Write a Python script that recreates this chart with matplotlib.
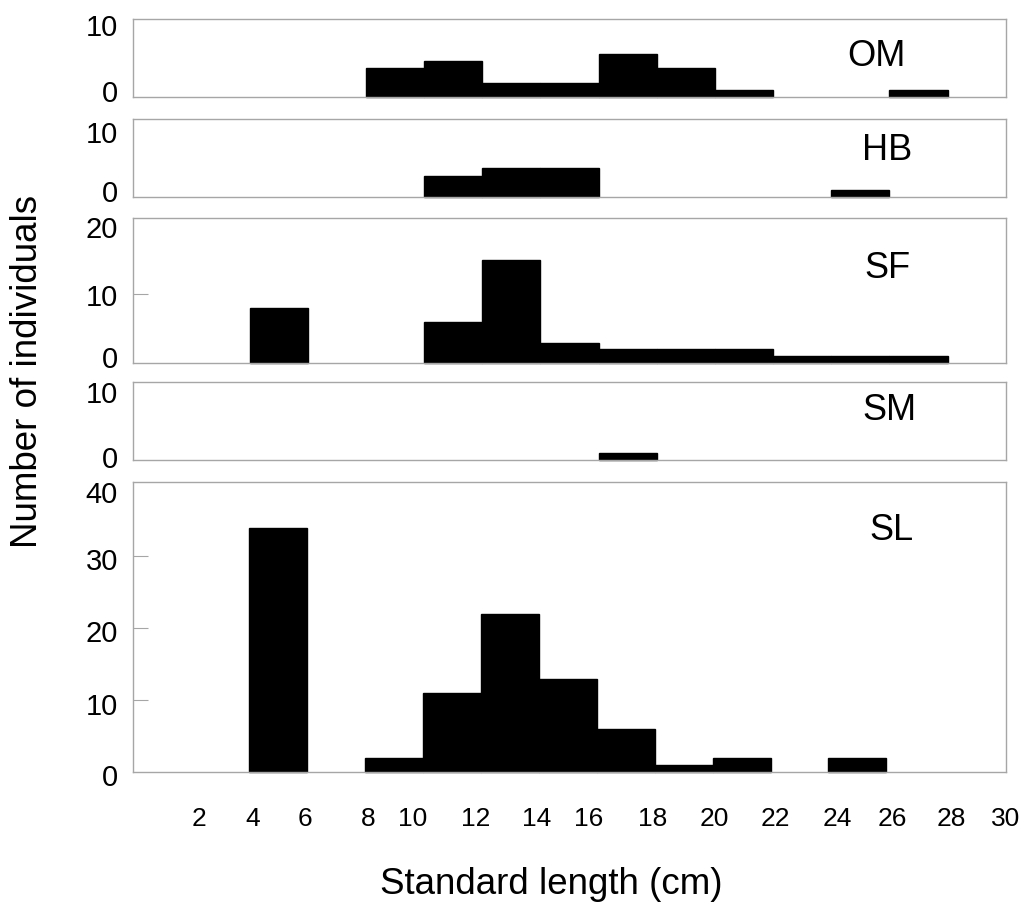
import numpy as np
import matplotlib
matplotlib.use("Agg")
import matplotlib.pyplot as plt
from matplotlib.transforms import ScaledTranslation

plt.rcParams['font.family'] = ['Liberation Sans', 'DejaVu Sans']

# 2 cm length classes, left edges 0..28
bin_left = np.arange(0, 30, 2)

om_counts = [0, 0, 0, 0, 4, 5, 2, 2, 6, 4, 1, 0, 0, 1, 0]
hb_counts = [0, 0, 0, 0, 0, 3, 4, 4, 0, 0, 0, 0, 1, 0, 0]
sf_counts = [0, 0, 8, 0, 0, 6, 15, 3, 2, 2, 2, 1, 1, 1, 0]
sm_counts = [0, 0, 0, 0, 0, 0, 0, 0, 1, 0, 0, 0, 0, 0, 0]
sl_counts = [0, 0, 34, 0, 2, 11, 22, 13, 6, 1, 2, 0, 2, 0, 0]

groups = ["OM", "HB", "SF", "SM", "SL"]
counts = [om_counts, hb_counts, sf_counts, sm_counts, sl_counts]
y_ticks = [[0, 10], [0, 10], [0, 10, 20], [0, 10], [0, 10, 20, 30, 40]]

x_tick_text = ["2", "4", "6", "8", "10", "12", "14", "16", "18", "20",
               "22", "24", "26", "28", "30"]

# layout (pixels of the 1034x906 figure)
W, H = 1034, 906
left_px, width_px = 133.3, 872.4
panel_px = [(19.3, 97.3), (119.3, 197.3), (218.3, 363.3), (382.3, 460.0),
            (482.3, 772.3)]
y_top = [10.8, 10.8, 21.0, 10.8, 40.3]
name_xy = [(0.852, 0.52), (0.864, 0.606), (0.864, 0.655), (0.867, 0.643),
           (0.869, 0.835)]
# end labels are nudged inwards in the original (px, + = down)
label_nudge = [[-6, 0], [-6.6, 6.6], [-6.6, 0.7, 1.4], [-3.3, 3.6],
               [2.7, 4, 2.4, 2.6, 7.4]]
# the original labels sit off the class edges
x_label_at = [2.27, 4.11, 5.94, 8.12, 9.63, 11.81, 13.93, 15.71, 17.94,
              20.06, 22.18, 24.3, 26.19, 28.25, 30.12]

frame_col = "#a6a6a6"

fig = plt.figure(figsize=(W / 100, H / 100), dpi=100)

for i, g in enumerate(groups):
    top, bot = panel_px[i]
    ax = fig.add_axes([left_px / W, 1 - bot / H, width_px / W, (bot - top) / H])
    c = np.asarray(counts[i])
    keep = c > 0
    ax.bar(bin_left[keep], c[keep], width=2, align="edge", color="black",
           edgecolor="black", linewidth=1, clip_on=False, zorder=2)
    ax.set_xlim(0, 30)
    ax.set_ylim(0, y_top[i])
    for s in ax.spines.values():
        s.set_color(frame_col)
        s.set_linewidth(1)

    ax.set_yticks(y_ticks[i])
    ax.tick_params(axis="y", direction="in", length=11, width=0.8,
                   color=frame_col, labelsize=21, pad=11)
    for t, v, dy in zip(ax.yaxis.get_major_ticks(), y_ticks[i], label_nudge[i]):
        if v == 0 or v == y_ticks[i][-1]:
            t.tick1line.set_visible(False)
        t.label1.set_transform(t.label1.get_transform() +
                               ScaledTranslation(0, -dy / 100, fig.dpi_scale_trans))

    if g == "SL":
        ax.set_xticks(x_label_at, x_tick_text)
        ax.tick_params(axis="x", which="major", length=0, labelsize=19, pad=25)
    else:
        ax.set_xticks([])

    ax.text(name_xy[i][0], name_xy[i][1], g, transform=ax.transAxes,
            ha="center", va="center", fontsize=26)

fig.text(551 / W, 1 - 884 / H, "Standard length (cm)", ha="center",
         va="center", fontsize=26.5)
fig.text(28 / W, 1 - 371 / H, "Number of individuals", ha="center",
         va="center", rotation=90, fontsize=26.5)

fig.savefig("out.png", dpi=100, facecolor="white")
